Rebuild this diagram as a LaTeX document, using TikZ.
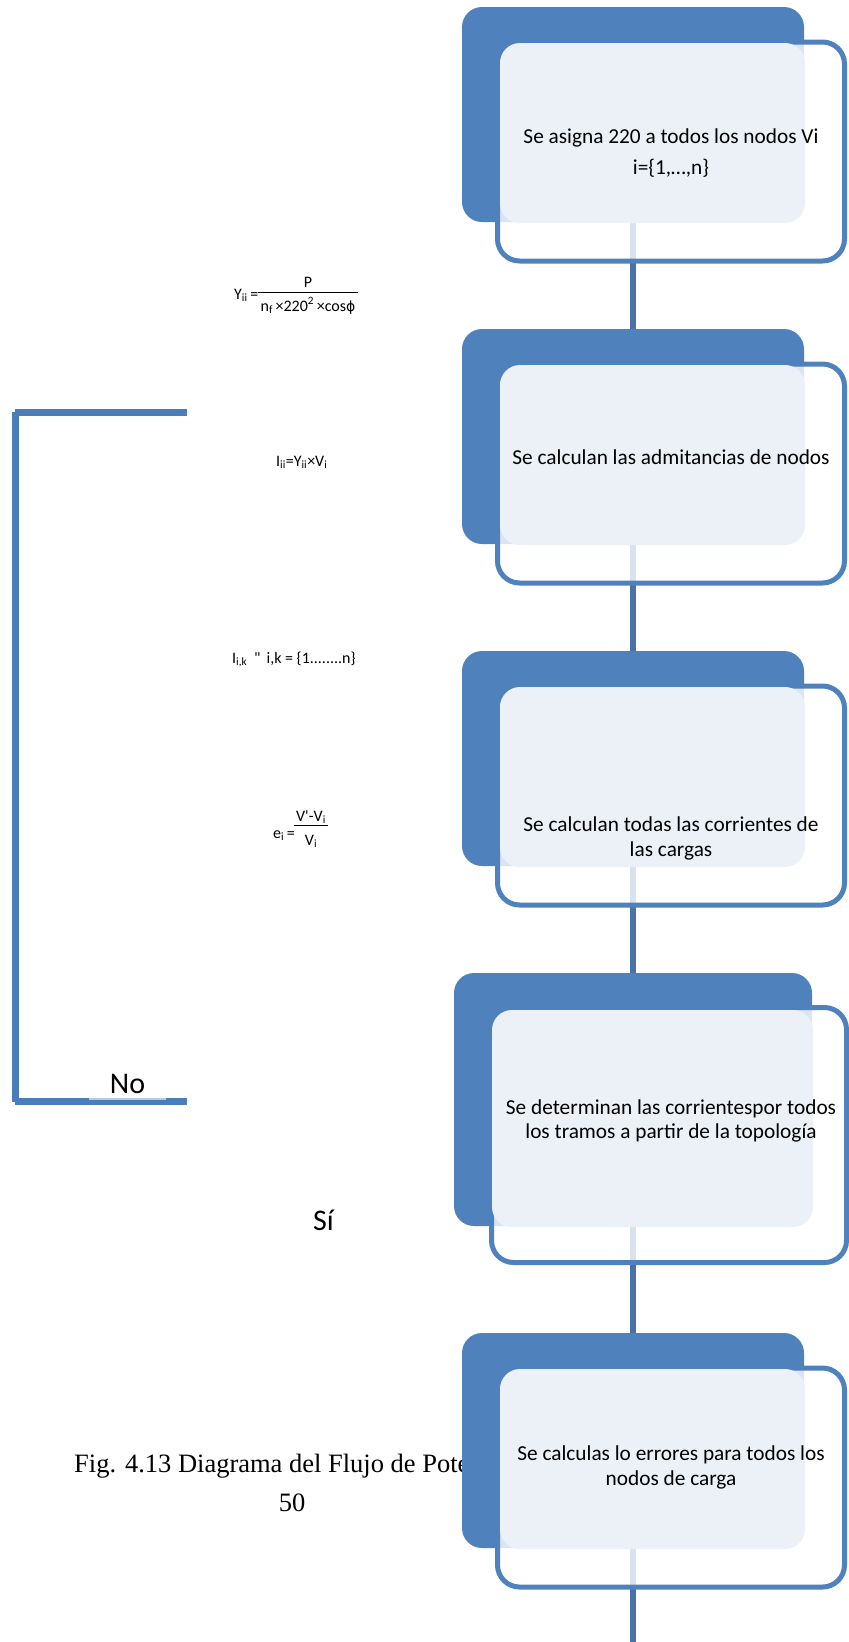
\documentclass[tikz,border=0pt]{standalone}
\usepackage{fontspec}
\setmainfont{Carlito}
\newfontfamily\serifcap{Liberation Serif}
\newfontfamily\greekfont{DejaVu Sans}
\pgfdeclarelayer{behind}
\pgfsetlayers{behind,main}
\definecolor{boxblue}{HTML}{4F81BD}
\definecolor{paleblue}{HTML}{ECF1F8}
\definecolor{linkblue}{HTML}{4A72A8}
\definecolor{loopblue}{HTML}{4A7EBB}
\tikzset{
  backbox/.style={rectangle, fill=boxblue, rounded corners=20pt, inner sep=0pt},
  framebox/.style={rectangle, draw=boxblue, line width=5pt, fill=white, fill opacity=0.8, rounded corners=22pt, inner sep=0pt},
  facebox/.style={rectangle, fill=paleblue, rounded corners=20pt, inner sep=0pt},
  steptext/.style={font=\fontsize{21.3}{26}\selectfont, anchor=base, inner sep=0pt},
  link/.style={draw=linkblue, line width=5.5pt},
  loopline/.style={draw=loopblue, line width=6.5pt},
  formula/.style={font=\fontsize{16}{19}\selectfont, inner sep=0pt},
  fracbar/.style={line width=0.9pt},
  bigword/.style={font=\fontsize{30}{36}\selectfont, inner sep=0pt, anchor=base},
}
\begin{document}
\begin{tikzpicture}[x=1pt, y=-1pt]
\useasboundingbox (0,0) rectangle (849,1642);

% caption and page number (partly hidden by the last step box)
\node[font=\serifcap\fontsize{26.5}{32}\selectfont, anchor=base west, inner sep=0pt] (caption) at (74,1472) {Fig. 4.13 Diagrama del Flujo de Potencia};
\node[font=\serifcap\fontsize{26.5}{32}\selectfont, anchor=base, inner sep=0pt] (pagenum) at (292,1511) {50};

% step 1
\node[backbox, minimum width=342pt, minimum height=215pt] (b1back) at (633,114.5) {};
\node[framebox, minimum width=347pt, minimum height=219pt] (b1frame) at (671,151.5) {};
\node[facebox, minimum width=305pt, minimum height=180pt] (b1face) at (652.5,133) {};
\node[steptext] (t1a) at (671,143) {Se asigna 220 a todos los nodos Vi};
\node[steptext] (t1b) at (671,174) {i=\{1,…,n\}};

% step 2
\node[backbox, minimum width=342pt, minimum height=215pt] (b2back) at (633,436.5) {};
\node[framebox, minimum width=347pt, minimum height=219pt] (b2frame) at (671,473.5) {};
\node[facebox, minimum width=305pt, minimum height=180pt] (b2face) at (652.5,455) {};
\node[steptext] (t2a) at (671,464) {Se calculan las admitancias de nodos};

% step 3
\node[backbox, minimum width=342pt, minimum height=215pt] (b3back) at (633,758.5) {};
\node[framebox, minimum width=347pt, minimum height=219pt] (b3frame) at (671,795.5) {};
\node[facebox, minimum width=305pt, minimum height=180pt] (b3face) at (652.5,777) {};
\node[steptext] (t3a) at (671,831) {Se calculan todas las corrientes de};
\node[steptext] (t3b) at (671,856) {las cargas};

% step 4
\node[backbox, minimum width=358pt, minimum height=253pt] (b4back) at (633,1099.5) {};
\node[framebox, minimum width=355pt, minimum height=255pt] (b4frame) at (669,1135) {};
\node[facebox, minimum width=321pt, minimum height=217pt] (b4face) at (652.5,1118.5) {};
\node[steptext] (t4a) at (671,1114) {Se determinan las corrientespor todos};
\node[steptext] (t4b) at (671,1138) {los tramos a partir de la topología};

% step 5
\node[backbox, minimum width=342pt, minimum height=215pt] (b5back) at (633,1440.5) {};
\node[framebox, minimum width=347pt, minimum height=219pt] (b5frame) at (671,1477.5) {};
\node[facebox, minimum width=305pt, minimum height=180pt] (b5face) at (652.5,1459) {};
\node[steptext] (t5a) at (671,1460) {Se calculas lo errores para todos los};
\node[steptext] (t5b) at (671,1485) {nodos de carga};

% vertical links between the steps
\coordinate (flowend) at (633,1642);
\begin{pgfonlayer}{behind}
  \draw[link] (b1back.center) -- (b2back.center);
  \draw[link] (b2back.center) -- (b3back.center);
  \draw[link] (b3back.center) -- (b4back.center);
  \draw[link] (b4back.center) -- (b5back.center);
  \draw[link] (b5back.center) -- (flowend);
\end{pgfonlayer}

% formulas
\node[formula, anchor=base west] (yiilhs) at (234,299) {Y\textsubscript{ii}\,=};
\coordinate (ybarL) at (258,292);
\coordinate (ybarR) at (358,292);
\draw[fracbar] (ybarL) -- (ybarR);
\node[formula, anchor=base] (yiinum) at (308,287) {P};
\node[formula, anchor=base] (yiiden) at (308,311) {n\textsubscript{f}\,×220\textsuperscript{2}\,×cos{\greekfont\fontsize{14}{16}\selectfont ϕ}};

\node[formula, anchor=base west] (iii) at (276,466) {I\textsubscript{ii}=Y\textsubscript{ii}×V\textsubscript{i}};

\node[formula, anchor=base west] (iik) at (232,663) {I\textsubscript{i,k}\hspace{7pt}\textquotedbl\hspace{6pt}i,k = \{1........n\}};

\node[formula, anchor=base west] (eilhs) at (273,838) {e\textsubscript{i}\,=};
\coordinate (ebarL) at (294,825);
\coordinate (ebarR) at (328,825);
\draw[fracbar] (ebarL) -- (ebarR);
\node[formula, anchor=base] (einum) at (311,821) {V\textquotesingle-V\textsubscript{i}};
\node[formula, anchor=base] (eiden) at (311,845) {V\textsubscript{i}};

% iteration loop
\coordinate (loopTR) at (187,412.5);
\coordinate (loopTL) at (15,412.5);
\coordinate (loopVT) at (15.5,412);
\coordinate (loopVB) at (15.5,1101.7);
\coordinate (loopBL) at (15,1101.3);
\coordinate (loopBR) at (187,1101.3);
\draw[loopline] (loopTL) -- (loopTR);
\draw[loopline] (loopVT) -- (loopVB);
\draw[loopline] (loopBL) -- (loopBR);

\node[bigword, fill=white, fill opacity=0.6, text opacity=1, text depth=0pt, inner xsep=21pt, inner ysep=6.5pt] (nolabel) at (127.5,1093) {No};
\node[bigword, anchor=base west] (silabel) at (313,1230) {Sí};
\end{tikzpicture}
\end{document}
